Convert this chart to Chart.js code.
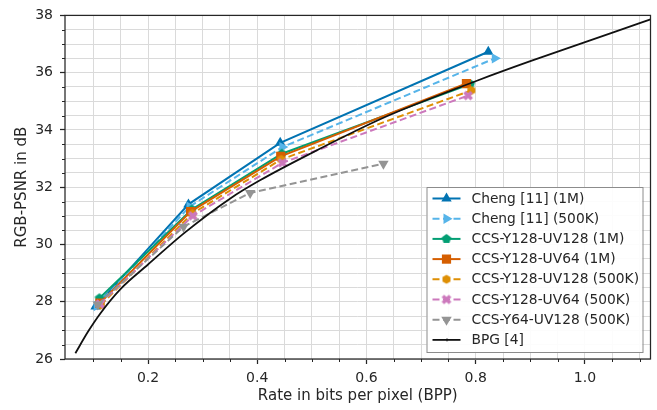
<!DOCTYPE html>
<html>
<head>
<meta charset="utf-8">
<script src="https://cdn.jsdelivr.net/npm/chart.js@4/dist/chart.umd.min.js"></script>
<style>
  html, body { margin: 0; padding: 0; background: #fff; }
</style>
</head>
<body>
<canvas id="rd" width="657" height="410"></canvas>
<script>
// rate (bpp) / RGB-PSNR (dB)
var chengHiRate   = [0.104, 0.274, 0.442, 0.823];
var chengHiPsnr   = [27.83, 31.40, 33.55, 36.73];
var chengLoRate   = [0.106, 0.276, 0.446, 0.835];
var chengLoPsnr   = [27.85, 31.32, 33.40, 36.50];
var y128uv128HiRate = [0.111, 0.280, 0.445, 0.790];
var y128uv128HiPsnr = [28.12, 31.22, 33.17, 35.60];
var y128uv64HiRate  = [0.112, 0.278, 0.443, 0.783];
var y128uv64HiPsnr  = [27.95, 31.15, 33.08, 35.62];
var y128uv128LoRate = [0.113, 0.281, 0.444, 0.792];
var y128uv128LoPsnr = [27.88, 31.08, 32.97, 35.38];
var y128uv64LoRate  = [0.112, 0.282, 0.446, 0.786];
var y128uv64LoPsnr  = [27.92, 31.00, 32.85, 35.20];
var y64uv128LoRate  = [0.108, 0.265, 0.387, 0.631];
var y64uv128LoPsnr  = [27.90, 30.62, 31.80, 32.82];
var bpgRate = [0.067, 0.09, 0.113, 0.15, 0.2, 0.265, 0.35, 0.405, 0.5, 0.619, 0.661, 0.801, 0.9, 1.057, 1.12];
var bpgPsnr = [26.20, 26.95, 27.60, 28.45, 29.30, 30.38, 31.60, 32.24, 33.20, 34.32, 34.67, 35.71, 36.40, 37.44, 37.86];

var seriesNames = ['Cheng [11] (1M)', 'Cheng [11] (500K)', 'CCS-Y128-UV128 (1M)', 'CCS-Y128-UV64 (1M)',
  'CCS-Y128-UV128 (500K)', 'CCS-Y128-UV64 (500K)', 'CCS-Y64-UV128 (500K)', 'BPG [4]'];
var xTicks = [];
for (var k = 2; k <= 22; k++) xTicks.push(Math.round(k * 5) / 100);
var yTicks = [];
for (var k = 52; k <= 76; k++) yTicks.push(k / 2);

var ink = '#262626';
var FONT = 'DejaVu Sans';

// little marker bitmaps for shapes Chart.js does not have
function polyMarker(n, r, color) {
  var c = document.createElement('canvas');
  var s = Math.ceil(r * 2 + 2);
  c.width = s; c.height = s;
  var g = c.getContext('2d');
  g.fillStyle = color;
  g.beginPath();
  for (var i = 0; i < n; i++) {
    var t = i * 2 * Math.PI / n;
    var px = s / 2 + r * Math.sin(t), py = s / 2 - r * Math.cos(t);
    if (i) g.lineTo(px, py); else g.moveTo(px, py);
  }
  g.closePath();
  g.fill();
  return c;
}
function xMarker(r, color) {
  var c = document.createElement('canvas');
  var s = Math.ceil(r * 2 + 2);
  c.width = s; c.height = s;
  var g = c.getContext('2d');
  g.strokeStyle = color;
  g.lineWidth = 3.6;
  g.beginPath();
  g.moveTo(s / 2 - r * 0.72, s / 2 - r * 0.72); g.lineTo(s / 2 + r * 0.72, s / 2 + r * 0.72);
  g.moveTo(s / 2 + r * 0.72, s / 2 - r * 0.72); g.lineTo(s / 2 - r * 0.72, s / 2 + r * 0.72);
  g.stroke();
  return c;
}

function pts(xs, ys) {
  return xs.map(function (x, i) { return { x: x, y: ys[i] }; });
}

function series(i, xs, ys, color, dash, style, radius, rot) {
  return {
    label: seriesNames[i],
    data: pts(xs, ys),
    borderColor: color,
    backgroundColor: color,
    borderWidth: 2,
    borderDash: dash,
    pointStyle: style,
    pointRadius: radius,
    pointRotation: rot || 0,
    pointBorderWidth: 0,
    pointBackgroundColor: color,
    order: 20 - i
  };
}

var dashed = [7, 3.5];
var datasets = [
  series(0, chengHiRate, chengHiPsnr, '#0173b2', [], 'triangle', 6, 0),
  series(1, chengLoRate, chengLoPsnr, '#56b4e9', dashed, 'triangle', 6, 90),
  series(2, y128uv128HiRate, y128uv128HiPsnr, '#029e73', [], polyMarker(5, 5, '#029e73'), 5),
  series(3, y128uv64HiRate, y128uv64HiPsnr, '#d55e00', [], 'rect', 6.5),
  series(4, y128uv128LoRate, y128uv128LoPsnr, '#de8f05', dashed, polyMarker(6, 4.6, '#de8f05'), 5),
  series(5, y128uv64LoRate, y128uv64LoPsnr, '#cc78bc', dashed, xMarker(5, '#cc78bc'), 5),
  series(6, y64uv128LoRate, y64uv128LoPsnr, '#949494', dashed, 'triangle', 6, 180),
  {
    label: seriesNames[7],
    data: pts(bpgRate, bpgPsnr),
    borderColor: '#111111',
    backgroundColor: '#111111',
    borderWidth: 1.8,
    pointRadius: 0,
    cubicInterpolationMode: 'monotone',
    order: 1
  }
];

function isMajorX(v) { return Math.abs(v * 5 - Math.round(v * 5)) < 1e-6; }
function isMajorY(v) { return Math.abs(v / 2 - Math.round(v / 2)) < 1e-6; }

// frame, short minor ticks and the in-plot legend
var frameAndLegend = {
  id: 'frameAndLegend',
  afterDraw: function (chart) {
    var ctx = chart.ctx, a = chart.chartArea;
    var sx = chart.scales.x, sy = chart.scales.y;
    ctx.save();
    ctx.strokeStyle = ink;
    ctx.lineWidth = 1;
    ctx.beginPath();
    xTicks.forEach(function (v) {
      if (isMajorX(v)) return;
      var px = Math.round(sx.getPixelForValue(v)) + 0.5;
      ctx.moveTo(px, a.bottom); ctx.lineTo(px, a.bottom + 3);
    });
    yTicks.forEach(function (v) {
      if (isMajorY(v)) return;
      var py = Math.round(sy.getPixelForValue(v)) + 0.5;
      ctx.moveTo(a.left, py); ctx.lineTo(a.left - 3, py);
    });
    ctx.stroke();
    ctx.lineWidth = 1.25;
    ctx.strokeRect(a.left, a.top, a.right - a.left, a.bottom - a.top);

    // legend box
    var w = 216, h = 165;
    var x0 = a.right - 8 - w, y0 = a.bottom - 7 - h;
    ctx.fillStyle = 'rgba(255,255,255,0.92)';
    ctx.fillRect(x0, y0, w, h);
    ctx.strokeStyle = '#8c8c8c';
    ctx.lineWidth = 1;
    ctx.strokeRect(x0 + 0.5, y0 + 0.5, w, h);
    ctx.font = '13.8px "' + FONT + '"';
    ctx.textBaseline = 'middle';
    ctx.textAlign = 'left';
    chart.data.datasets.forEach(function (ds, i) {
      var cy = y0 + 11.5 + i * 20.2;
      ctx.strokeStyle = ds.borderColor;
      ctx.lineWidth = ds.borderWidth;
      ctx.setLineDash(ds.borderDash || []);
      ctx.beginPath();
      ctx.moveTo(x0 + 6, cy); ctx.lineTo(x0 + 34, cy);
      ctx.stroke();
      ctx.setLineDash([]);
      if (ds.pointRadius > 0) {
        ctx.fillStyle = ds.pointBackgroundColor;
        Chart.helpers.drawPoint(ctx, {
          pointStyle: ds.pointStyle, radius: ds.pointRadius,
          rotation: ds.pointRotation, borderWidth: 0
        }, x0 + 20, cy);
      } else {
        ctx.lineWidth = 1;
        ctx.beginPath();
        ctx.moveTo(x0 + 20.5, cy - 1.5); ctx.lineTo(x0 + 20.5, cy + 1.5);
        ctx.stroke();
      }
      ctx.fillStyle = ink;
      ctx.fillText(ds.label, x0 + 45, cy + 0.5);
    });
    ctx.restore();
  }
};

new Chart(document.getElementById('rd'), {
  type: 'line',
  data: { datasets: datasets },
  plugins: [frameAndLegend],
  options: {
    responsive: false,
    animation: false,
    devicePixelRatio: 1,
    layout: { padding: { top: 14, right: 6, left: 0, bottom: 0 } },
    plugins: { legend: { display: false }, tooltip: { enabled: false } },
    elements: { line: { tension: 0 } },
    scales: {
      x: {
        type: 'linear',
        min: 0.048,
        max: 1.12,
        afterBuildTicks: function (s) { s.ticks = xTicks.map(function (v) { return { value: v }; }); },
        afterFit: function (s) { s.height = 51; },
        border: { display: false },
        grid: {
          color: '#dadada',
          lineWidth: 1,
          tickLength: 5,
          tickWidth: 1.25,
          tickColor: function (c) { return c.tick && isMajorX(c.tick.value) ? ink : 'rgba(0,0,0,0)'; }
        },
        ticks: {
          autoSkip: false,
          maxRotation: 0,
          padding: 6,
          color: ink,
          font: { family: FONT, size: 14 },
          callback: function (v) { return isMajorX(v) ? v.toFixed(1) : ''; }
        },
        title: {
          display: true,
          text: 'Rate in bits per pixel (BPP)',
          color: ink,
          font: { family: FONT, size: 15 },
          padding: { top: 0, bottom: 5 }
        }
      },
      y: {
        type: 'linear',
        min: 26,
        max: 38,
        afterBuildTicks: function (s) { s.ticks = yTicks.map(function (v) { return { value: v }; }); },
        afterFit: function (s) { s.width = 65; },
        border: { display: false },
        grid: {
          color: '#dadada',
          lineWidth: 1,
          tickLength: 5,
          tickWidth: 1.25,
          tickColor: function (c) { return c.tick && isMajorY(c.tick.value) ? ink : 'rgba(0,0,0,0)'; }
        },
        ticks: {
          autoSkip: false,
          padding: 7,
          color: ink,
          font: { family: FONT, size: 14 },
          callback: function (v) { return isMajorY(v) ? String(v) : ''; }
        },
        title: {
          display: true,
          text: 'RGB-PSNR in dB',
          color: ink,
          font: { family: FONT, size: 15 },
          padding: { top: 13, bottom: 0 }
        }
      }
    }
  }
});
</script>
</body>
</html>
